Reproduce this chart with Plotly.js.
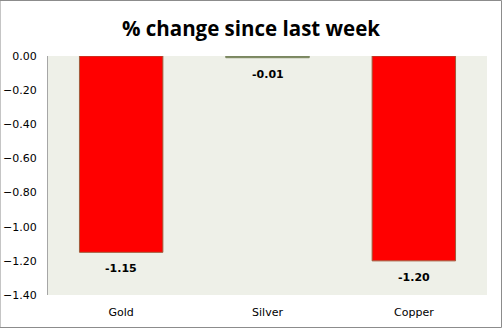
<!DOCTYPE html>
<html><head><meta charset="utf-8">
<script src="https://cdn.plot.ly/plotly-3.0.1.min.js"></script>
<style>html,body{margin:0;padding:0;background:#fff}#c{width:502px;height:328px}</style>
</head><body><div id="c"></div>
<script>
const categories = ["Gold", "Silver", "Copper"];
const values = [-1.15, -0.01, -1.20];
const yTickVals = [0, -0.2, -0.4, -0.6, -0.8, -1.0, -1.2, -1.4];
const barColors = ["#ff0000", "#7b8760", "#ff0000"];
const barLines = ["#a05a3a", "#7b8760", "#a05a3a"];

const trace = {
  type: "bar", x: categories, y: values,
  marker: {color: barColors, line: {color: barLines, width: 1}},
  hoverinfo: "skip"
};
const labels = categories.map((c, i) => ({
  x: c, y: values[i], xref: "x", yref: "y", text: "<b>" + values[i].toFixed(2) + "</b>",
  showarrow: false, yanchor: "top", yshift: -8,
  font: {family: "DejaVu Sans", size: 11, color: "#000"}
}));
const layout = {
  width: 502, height: 328,
  margin: {l: 48, r: 15, t: 56, b: 33},
  paper_bgcolor: "#ffffff", plot_bgcolor: "#eef0e8",
  bargap: 0.43,
  showlegend: false,
  title: {text: "<b>% change since last week</b>", x: 0.5, xanchor: "center", y: 0.912, yanchor: "middle",
          font: {family: "Open Sans", size: 20.5, color: "#000"}},
  xaxis: {showgrid: false, zeroline: false, showline: false, ticks: "", ticklabelstandoff: 9,
          tickfont: {family: "DejaVu Sans", size: 11, color: "#000"}},
  yaxis: {range: [-1.4, 0], tickvals: yTickVals, tickformat: ".2f", showgrid: false, zeroline: false,
          showline: true, linecolor: "#a6a6a6", linewidth: 1, ticks: "", ticklabelstandoff: 8,
          tickfont: {family: "DejaVu Sans", size: 11, color: "#000"}},
  annotations: labels,
  shapes: [
    {type: "rect", xref: "paper", yref: "paper", x0: -48/439, x1: 1 + 14.5/439, y0: -32.5/239, y1: 1 + 55.5/239,
     line: {color: "#8c8c8c", width: 1}, fillcolor: "rgba(0,0,0,0)"}
  ]
};
Plotly.newPlot("c", [trace], layout, {displayModeBar: false, staticPlot: true});
</script></body></html>
